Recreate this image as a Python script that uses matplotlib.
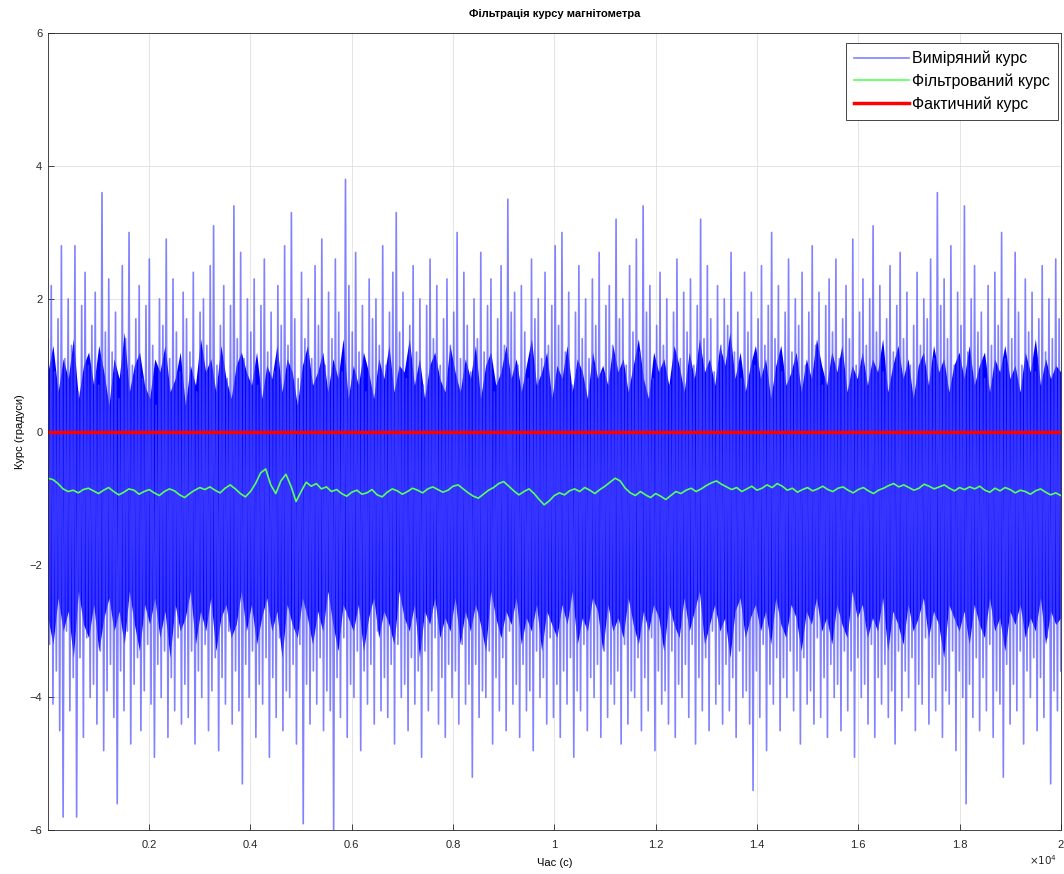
import matplotlib
matplotlib.use("Agg")
import matplotlib.pyplot as plt
import numpy as np

plt.rcParams['font.family'] = ['Liberation Sans', 'DejaVu Sans']

meas_high = [
    1.4, 2.2, 0.9, 1.7, 2.8, 1.1, 2.0, 1.3, 2.8, 0.6, 1.9, 2.4, 1.0, 1.6, 2.1, 0.7, 3.6, 1.5, 2.3, 1.2,
    1.8, 0.5, 2.5, 1.4, 3.0, 1.0, 1.7, 2.2, 0.8, 1.9, 2.6, 1.3, 0.4, 2.0, 1.6, 2.9, 1.1, 2.3, 1.5, 0.9,
    2.1, 1.7, 1.2, 2.4, 0.6, 1.8, 2.0, 1.3, 2.5, 3.1, 1.0, 1.6, 2.2, 0.8, 1.9, 3.4, 1.4, 2.7, 1.1, 2.0,
    1.5, 2.3, 0.7, 1.9, 2.6, 1.2, 1.8, 0.9, 2.2, 1.6, 2.8, 1.3, 3.3, 1.7, 0.8, 2.4, 1.4, 2.0, 1.1, 2.5,
    1.6, 2.9, 1.0, 2.1, 1.4, 2.6, 1.8, 0.9, 3.8, 2.2, 1.5, 2.7, 1.2, 1.9, 0.6, 2.3, 1.7, 2.0, 1.3, 2.8,
    1.0, 1.8, 2.4, 3.3, 1.5, 2.1, 0.8, 1.6, 2.5, 1.2, 2.0, 0.7, 1.9, 2.6, 1.4, 2.2, 1.0, 1.7, 2.3, 1.3,
    1.8, 3.0, 1.1, 2.4, 1.6, 0.9, 2.0, 1.4, 2.7, 1.2, 1.9, 2.3, 0.6, 1.7, 2.5, 1.3, 3.5, 1.8, 2.1, 1.0,
    2.2, 1.5, 0.8, 2.6, 1.7, 2.0, 1.1, 2.4, 1.3, 1.9, 2.8, 1.6, 3.0, 1.2, 2.1, 0.7, 1.8, 2.5, 1.4, 2.0,
    1.1, 2.3, 1.6, 2.7, 0.9, 1.9, 2.2, 1.3, 3.2, 1.7, 2.0, 1.0, 2.5, 1.5, 2.9, 1.2, 3.4, 1.8, 2.2, 0.8,
    1.6, 2.4, 1.3, 2.0, 0.7, 1.8, 2.6, 1.1, 2.1, 1.5, 2.3, 1.0, 1.9, 3.2, 1.4, 2.5, 1.7, 0.9, 2.2, 1.3,
    2.0, 1.6, 2.7, 1.2, 1.8, 0.8, 2.4, 1.5, 2.1, 1.0, 1.7, 2.5, 1.3, 1.9, 3.0, 1.4, 2.2, 0.9, 1.8, 2.6,
    1.2, 2.0, 1.6, 2.4, 1.0, 1.8, 2.8, 1.3, 2.1, 0.7, 1.9, 2.3, 1.5, 2.6, 1.1, 1.7, 2.2, 1.4, 2.9, 1.0,
    1.8, 2.3, 1.3, 2.0, 3.1, 1.5, 2.2, 0.9, 1.7, 2.5, 1.2, 1.9, 2.7, 1.4, 2.1, 1.0, 1.6, 2.4, 1.3, 2.0,
    1.7, 2.6, 1.1, 3.6, 1.9, 2.3, 1.4, 2.8, 1.0, 2.1, 1.6, 3.4, 1.2, 2.0, 2.5, 1.5, 1.8, 0.8, 2.2, 1.3,
    2.4, 1.6, 3.0, 1.1, 2.0, 1.4, 2.7, 1.8, 1.0, 2.3, 1.5, 2.1, 0.9, 1.7, 2.5, 1.2, 2.0, 1.4, 2.6, 1.7,
]
meas_low = [
    -3.2, -4.1, -3.6, -4.5, -5.8, -3.0, -4.2, -3.7, -5.8, -3.4, -4.6, -3.1, -4.0, -3.8, -4.4, -3.3, -4.8, -3.9, -3.5, -4.3,
    -5.6, -3.6, -4.2, -3.0, -4.7, -3.8, -3.4, -4.5, -3.9, -3.2, -4.1, -4.9, -3.5, -4.0, -3.3, -4.6, -3.7, -4.2, -3.1, -4.4,
    -3.8, -4.3, -3.3, -4.7, -3.6, -4.0, -3.2, -4.5, -3.9, -3.4, -4.8, -3.7, -4.1, -3.0, -4.4, -3.6, -4.2, -5.3, -3.5, -4.0,
    -3.3, -4.6, -3.8, -4.1, -3.4, -4.9, -3.7, -4.3, -3.1, -4.5, -3.9, -4.0, -3.5, -4.7, -3.2, -5.9, -3.8, -4.4, -3.6, -4.1,
    -3.4, -4.5, -3.9, -4.2, -6.0, -3.7, -4.3, -3.1, -4.6, -3.8, -4.0, -3.3, -4.8, -3.6, -4.1, -3.5, -4.4, -3.0, -4.2, -3.7,
    -4.3, -3.5, -4.7, -3.2, -4.0, -3.8, -4.5, -3.4, -4.1, -3.6, -4.9, -3.3, -4.2, -3.9, -3.1, -4.4, -3.7, -4.6, -3.5, -4.0,
    -3.6, -4.4, -3.2, -4.1, -3.8, -5.2, -3.5, -4.3, -3.9, -4.0, -3.3, -4.7, -3.7, -4.2, -3.4, -4.5, -3.0, -4.1, -3.8, -4.6,
    -3.5, -4.2, -3.9, -4.8, -3.3, -4.0, -3.7, -4.4, -3.1, -4.3, -3.8, -4.6, -3.6, -4.1, -3.4, -4.9, -3.9, -4.2, -3.2, -4.5,
    -3.7, -4.0, -3.5, -4.6, -3.3, -4.3, -3.8, -4.1, -3.6, -4.7, -3.2, -4.4, -3.9, -4.0, -3.4, -4.5, -3.7, -4.2, -3.1, -4.8,
    -3.6, -4.1, -3.9, -4.4, -3.3, -4.6, -3.8, -4.0, -3.5, -4.3, -3.2, -4.7, -3.7, -4.2, -3.4, -4.5, -3.0, -4.1, -3.8, -4.4,
    -3.5, -4.2, -3.7, -4.6, -3.3, -4.0, -3.9, -4.4, -5.4, -3.6, -4.3, -3.2, -4.8, -3.8, -4.1, -3.4, -4.5, -3.7, -4.0, -3.3,
    -4.2, -3.6, -4.7, -3.4, -4.1, -3.9, -4.4, -3.1, -4.3, -3.7, -4.6, -3.5, -4.0, -3.8, -4.5, -3.3, -4.2, -3.6, -4.9, -3.4,
    -4.0, -3.8, -4.4, -3.2, -4.6, -3.7, -4.1, -3.5, -4.3, -3.9, -4.7, -3.3, -4.2, -3.6, -4.0, -3.4, -4.5, -3.8, -4.1, -3.1,
    -4.4, -3.7, -4.2, -3.5, -4.6, -3.9, -4.1, -3.3, -4.8, -3.6, -4.0, -5.6, -3.8, -4.3, -3.4, -4.5, -3.7, -4.2, -3.2, -4.6,
    -3.9, -4.1, -5.2, -3.5, -4.4, -3.8, -4.2, -3.3, -4.7, -3.6, -4.0, -3.4, -4.5, -3.7, -4.3, -3.1, -5.3, -3.9, -4.2, -3.6,
]

# Dense part of the measured band (where the samples overlap into solid blue)
core_high = [
    0.9, 1.3, 0.6, 1.1, 0.8, 1.4, 0.5, 1.0, 1.2, 0.7, 1.3, 0.9, 0.4, 1.1, 0.8, 1.5, 0.6, 1.0, 1.2, 0.7,
    0.5, 1.1, 0.9, 1.3, 0.6, 0.8, 1.2, 0.4, 1.0, 0.7, 1.4, 0.9, 1.1, 0.6, 1.3, 0.8, 0.5, 1.0, 1.2, 0.9,
    0.7, 1.2, 0.5, 1.0, 0.8, 1.3, 0.6, 1.1, 0.9, 0.4, 1.0, 1.3, 0.7, 0.9, 1.2, 0.6, 1.1, 0.8, 1.4, 0.5,
    1.0, 0.7, 1.2, 0.9, 0.5, 1.1, 0.8, 1.3, 0.6, 1.0, 0.9, 1.4, 0.7, 1.1, 0.5, 1.0, 1.2, 0.8, 0.6, 1.3,
    0.9, 0.6, 1.1, 0.8, 1.3, 0.5, 1.0, 1.2, 0.7, 0.9, 1.3, 0.8, 1.1, 0.6, 1.0, 1.4, 0.7, 0.9, 1.2, 0.5,
    1.0, 0.8, 1.3, 0.6, 1.1, 0.9, 0.5, 1.2, 0.8, 1.0, 0.7, 1.3, 0.9, 1.1, 0.6, 1.0, 1.4, 0.8, 0.5, 1.2,
    0.9, 1.1, 0.7, 1.3, 1.0, 0.6, 1.2, 0.8, 1.4, 0.9, 1.1, 0.7, 1.3, 1.0, 1.5, 0.8, 1.2, 0.6, 1.0, 1.3,
    0.8, 1.1, 0.5, 1.0, 1.3, 0.7, 0.9, 1.2, 0.6, 1.1, 0.8, 1.4, 1.0, 0.7, 1.2, 0.9, 1.3, 0.6, 1.0, 0.8,
    1.2, 0.7, 1.1, 0.9, 1.4, 0.6, 1.0, 1.3, 0.8, 1.1, 0.5, 1.0, 1.2, 0.7, 1.3, 0.9, 1.1, 0.6, 1.0, 1.2,
    0.8, 1.3, 0.7, 1.0, 1.2, 0.6, 1.1, 0.9, 1.3, 0.8, 1.0, 0.6, 1.2, 0.9, 1.4, 0.7, 1.1, 0.8, 1.0, 0.9,
]
core_low = [
    -2.8, -3.2, -2.5, -3.0, -2.7, -3.4, -2.4, -2.9, -3.1, -2.6, -3.3, -2.8, -2.5, -3.0, -2.7, -3.2, -2.4, -2.9, -3.3, -2.6,
    -2.9, -2.5, -3.1, -2.7, -3.4, -2.6, -3.0, -2.8, -2.4, -3.2, -2.7, -3.0, -2.5, -3.3, -2.8, -2.6, -3.1, -2.9, -2.4, -3.0,
    -2.6, -3.2, -2.8, -2.5, -3.0, -2.7, -3.4, -2.6, -2.9, -3.1, -2.5, -2.8, -3.2, -2.7, -3.0, -2.4, -2.9, -3.3, -2.6, -2.8,
    -3.0, -2.6, -3.3, -2.8, -2.5, -3.1, -2.7, -2.9, -3.2, -2.4, -2.8, -3.0, -2.6, -3.4, -2.7, -2.9, -2.5, -3.1, -2.8, -3.0,
    -2.5, -3.2, -2.7, -3.0, -2.6, -2.9, -3.3, -2.4, -2.8, -3.1, -2.7, -2.9, -2.5, -3.2, -2.8, -3.0, -2.6, -3.3, -2.7, -2.9,
    -3.1, -2.6, -2.9, -2.4, -3.2, -2.8, -3.0, -2.5, -2.7, -3.3, -2.6, -3.0, -2.8, -3.1, -2.5, -2.9, -3.2, -2.7, -3.0, -2.6,
    -2.8, -3.3, -2.6, -2.9, -3.1, -2.5, -3.0, -2.7, -2.4, -3.2, -2.9, -2.6, -3.0, -2.8, -3.4, -2.7, -2.5, -3.1, -2.8, -2.6,
    -3.0, -2.7, -3.2, -2.5, -2.9, -3.1, -2.6, -2.8, -3.3, -2.7, -2.9, -2.5, -3.0, -2.8, -3.2, -2.6, -2.9, -3.1, -2.4, -2.8,
    -2.6, -3.1, -2.8, -3.0, -2.5, -3.3, -2.7, -2.9, -3.2, -2.6, -3.0, -2.8, -2.5, -3.1, -2.7, -2.9, -3.4, -2.6, -2.8, -3.0,
    -2.7, -3.2, -2.6, -2.9, -3.1, -2.5, -3.0, -2.8, -3.3, -2.7, -2.9, -2.6, -3.1, -2.8, -3.0, -2.5, -3.2, -2.7, -2.9, -2.8,
]

# Filtered heading (green), one value every 100 s
filtered = [
    -0.70, -0.72, -0.78, -0.86, -0.90, -0.88, -0.92, -0.87, -0.85, -0.89, -0.93, -0.88, -0.84, -0.90, -0.95, -0.91, -0.86, -0.88, -0.94, -0.90, -0.87,
    -0.92, -0.96, -0.90, -0.86, -0.89, -0.95, -0.99, -0.93, -0.88, -0.84, -0.87, -0.83, -0.88, -0.92, -0.85, -0.80, -0.86, -0.93, -0.98, -0.90,
    -0.78, -0.62, -0.56, -0.80, -0.93, -0.74, -0.64, -0.82, -1.05, -0.90, -0.76, -0.82, -0.78, -0.86, -0.83, -0.90, -0.87, -0.93, -0.97, -0.91,
    -0.88, -0.94, -0.92, -0.87, -0.95, -0.98, -0.91, -0.86, -0.89, -0.94, -0.90, -0.85, -0.88, -0.92, -0.86, -0.83, -0.87, -0.91, -0.88, -0.82,
    -0.80, -0.86, -0.92, -0.97, -1.00, -0.94, -0.88, -0.84, -0.78, -0.75, -0.82, -0.89, -0.95, -0.90, -0.86, -0.93, -1.02, -1.10, -1.04, -0.96,
    -0.92, -0.95, -0.89, -0.86, -0.90, -0.84, -0.88, -0.93, -0.87, -0.82, -0.76, -0.70, -0.74, -0.85, -0.92, -0.96, -0.90, -0.95, -0.99, -0.93,
    -0.97, -1.02, -0.96, -0.90, -0.93, -0.88, -0.85, -0.90, -0.86, -0.81, -0.77, -0.74, -0.79, -0.83, -0.87, -0.84, -0.90, -0.86, -0.82, -0.88,
    -0.85, -0.80, -0.84, -0.78, -0.82, -0.88, -0.85, -0.91, -0.87, -0.84, -0.89, -0.86, -0.82, -0.87, -0.90, -0.85, -0.83, -0.88, -0.92, -0.87,
    -0.84, -0.89, -0.93, -0.88, -0.85, -0.81, -0.78, -0.83, -0.80, -0.84, -0.88, -0.85, -0.79, -0.82, -0.86, -0.83, -0.80, -0.85, -0.89, -0.84,
    -0.87, -0.83, -0.86, -0.82, -0.88, -0.91, -0.85, -0.89, -0.84, -0.87, -0.92, -0.88, -0.90, -0.94, -0.89, -0.86, -0.91, -0.95, -0.92, -0.96,
]

actual_heading = 0.0
t_end = 20000

x_ticks = [2000, 4000, 6000, 8000, 10000, 12000, 14000, 16000, 18000, 20000]
x_ticklabels = ['0.2', '0.4', '0.6', '0.8', '1', '1.2', '1.4', '1.6', '1.8', '2']
y_ticks = [-6, -4, -2, 0, 2, 4, 6]

# interleave the upper and lower swings into one signal
measured = np.column_stack([meas_high, meas_low]).ravel()
t_meas = np.linspace(0, t_end, len(measured))
t_core = np.linspace(0, t_end, len(core_high))
t_filt = np.linspace(0, t_end, len(filtered))

fig = plt.figure(figsize=(10.64, 8.74), dpi=100)
ax = fig.add_axes([0.045, 0.050, 0.952, 0.912])

ax.plot(t_meas, measured, color=(0.3, 0.3, 1.0), lw=1.2, alpha=0.7, label='Виміряний курс')
ax.fill_between(t_core, core_low, core_high, color=(0, 0, 1), lw=0)
ax.plot(t_filt, filtered, color=(0.35, 1, 0.35), lw=1.2, label='Фільтрований курс')
ax.plot([0, t_end], [actual_heading, actual_heading], color='red', lw=2.5, label='Фактичний курс')

ax.set_xlim(0, t_end)
ax.set_ylim(-6, 6)
ax.set_xticks(x_ticks)
ax.set_xticklabels(x_ticklabels)
ax.set_yticks(y_ticks)

ax.set_axisbelow(True)
ax.grid(True, color='#e0e0e0', lw=0.6)
for s in ax.spines.values():
    s.set_color('#262626')
    s.set_linewidth(0.6)
ax.tick_params(direction='in', length=4, width=0.6, labelsize=8, colors='#262626')
ax.tick_params(axis='x', pad=7)
ax.tick_params(axis='y', pad=4)

ax.set_title('Фільтрація курсу магнітометра', fontsize=8, fontweight='bold', pad=12)
ax.set_xlabel('Час (с)', fontsize=8, labelpad=6)
ax.set_ylabel('Курс (градуси)', fontsize=8, labelpad=3)
ax.text(0.996, -0.029, r'$\times10^4$', transform=ax.transAxes, fontsize=7.5,
        ha='right', va='top', color='#262626')

leg = ax.legend(loc='upper right', bbox_to_anchor=(0.997, 0.988), fontsize=11.5,
                handlelength=3.4, framealpha=1, fancybox=False, edgecolor='#262626',
                borderpad=0.5, labelspacing=0.45, handletextpad=0.2, borderaxespad=0)
leg.get_frame().set_linewidth(0.6)

fig.savefig('out.png', dpi=100)
